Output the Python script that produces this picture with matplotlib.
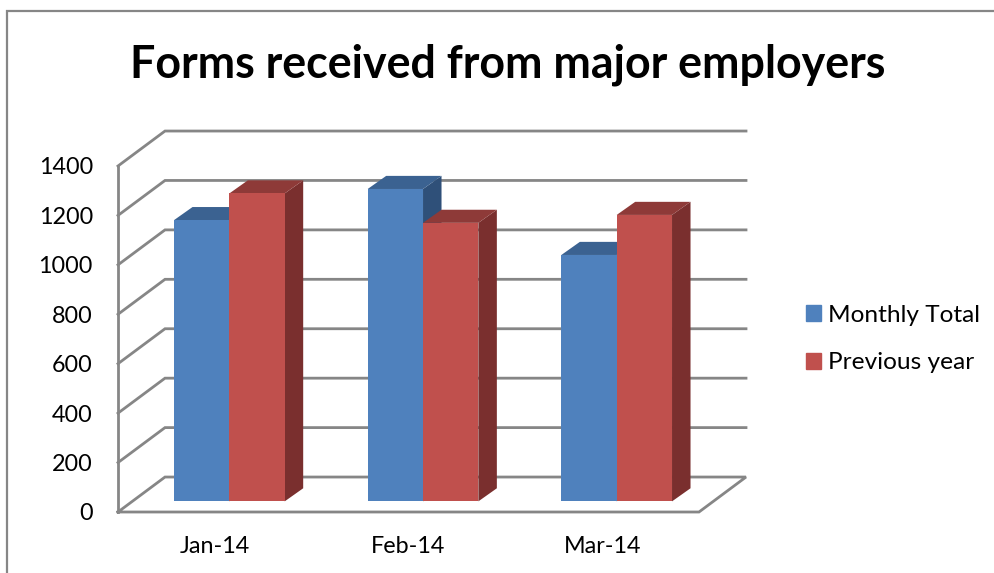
import matplotlib
matplotlib.use("Agg")
import matplotlib.pyplot as plt
from matplotlib.lines import Line2D
from matplotlib.patches import Patch, Polygon

plt.rcParams['font.family'] = ['Lato', 'DejaVu Sans']

months = ["Jan-14", "Feb-14", "Mar-14"]
monthly_total = [1138, 1264, 997]
previous_year = [1246, 1127, 1159]
y_ticks = [0, 200, 400, 600, 800, 1000, 1200, 1400]

W, H = 995, 573
fig = plt.figure(figsize=(W / 100, H / 100), dpi=100)
# front plane of the fake 3D box, in pixels from the top left
left, right, top, bottom = 118, 699, 166, 512
ax = fig.add_axes([left / W, 1 - bottom / H, (right - left) / W, (bottom - top) / H])
ax.set_xlim(0, 3)
ax.set_ylim(0, 1400)
for s in ax.spines.values():
    s.set_visible(False)
ax.patch.set_visible(False)

# depth of the box and of the bars, in data units
box_dx, box_dy = 0.2427, 141.5
bar_dx, bar_dy = 0.0955, 53
off_dx, off_dy = 0.075, 43
bar_w = 1 / 3.5
gap = (1 - 2 * bar_w) / 2

grey = "#868686"

# gridlines along the back wall and their diagonals on the side wall
for v in y_ticks:
    if v == 0:
        continue
    ax.plot([0, box_dx, 3 + box_dx], [v, v + box_dy, v + box_dy], color=grey, lw=2,
            clip_on=False, solid_joinstyle="miter", zorder=1)
# floor outline
ax.plot([0, box_dx, 3 + box_dx, 3, 0], [0, box_dy, box_dy, 0, 0], color=grey, lw=2,
        clip_on=False, solid_joinstyle="miter", zorder=1)
ax.plot([0, 0], [0, 1400], color=grey, lw=2, clip_on=False, zorder=1)


def draw_bar(x, val, front, top_c, side_c, z):
    x0 = x + off_dx
    x1 = x0 + bar_w
    y0 = off_dy
    y1 = val + off_dy
    ax.add_patch(Polygon([(x1, y0), (x1 + bar_dx, y0 + bar_dy), (x1 + bar_dx, y1 + bar_dy), (x1, y1)],
                         facecolor=side_c, edgecolor="none", clip_on=False, zorder=z))
    ax.add_patch(Polygon([(x0, y1), (x1, y1), (x1 + bar_dx, y1 + bar_dy), (x0 + bar_dx, y1 + bar_dy)],
                         facecolor=top_c, edgecolor="none", clip_on=False, zorder=z))
    ax.add_patch(Polygon([(x0, y0), (x1, y0), (x1, y1), (x0, y1)],
                         facecolor=front, edgecolor="none", clip_on=False, zorder=z + 0.1))


for i in range(len(months)):
    draw_bar(i + gap, monthly_total[i], "#4F81BD", "#3B6291", "#2F5079", 2 + i)
    draw_bar(i + gap + bar_w, previous_year[i], "#C0504D", "#8E3A38", "#7A2F2E", 2.5 + i)

ax.set_xticks([0.5, 1.5, 2.5], months)
ax.set_yticks(y_ticks, [str(v) for v in y_ticks])
ax.tick_params(axis="both", length=0, labelsize=16.8, colors="black")
ax.tick_params(axis="x", pad=17)
ax.tick_params(axis="y", pad=18)

fig.text(508 / W, 1 - 65 / H, "Forms received from major employers", fontsize=32.2,
         fontweight="bold", ha="center", va="center")

handles = [Patch(color="#4F81BD"), Patch(color="#C0504D")]
fig.legend(handles, ["Monthly Total", "Previous year"], loc="center left",
           bbox_to_anchor=(806 / W, 1 - 339 / H), frameon=False, fontsize=17.6,
           handlelength=0.62, handleheight=0.62, handletextpad=0.3, labelspacing=1.1,
           borderpad=0, borderaxespad=0)

# outer chart frame, open on the right and the bottom
fig.add_artist(Line2D([7 / W, 7 / W, 1], [0, 1 - 11 / H, 1 - 11 / H], color=grey, lw=1.6,
                      solid_joinstyle="miter"))

fig.savefig("out.png", dpi=100)
